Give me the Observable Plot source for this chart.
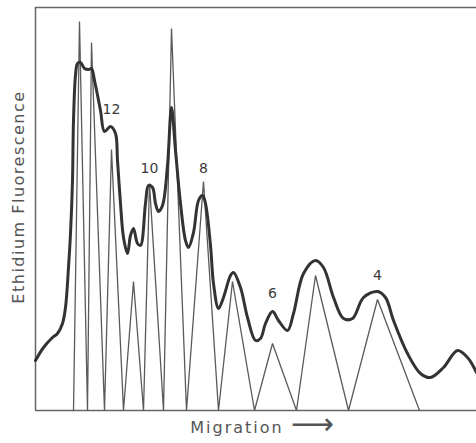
<!DOCTYPE html>
<html>
<head>
<meta charset="utf-8">
<script src="https://cdn.jsdelivr.net/npm/d3@7"></script>
<script src="https://cdn.jsdelivr.net/npm/@observablehq/plot@0.6"></script>
<style>
  html, body { margin: 0; padding: 0; background: #fff; }
  #chart svg { display: block; }
</style>
</head>
<body>
<div id="chart"></div>
<script>
// Densitometer trace (migration units, fluorescence units)
const traceX = [0, 8, 17, 22, 27, 30, 33, 35, 37, 38, 40, 42, 45, 49, 53, 56, 59, 65, 69, 75, 80, 82, 85, 88, 92, 95, 98, 102, 105, 110, 113, 117, 120, 123, 127, 132, 136, 140, 145, 150, 153, 158, 163, 167, 170, 175, 178, 183, 188, 195, 198, 205, 212, 220, 225, 230, 237, 243, 252, 258, 268, 280, 288, 298, 308, 317, 328, 342, 350, 358, 372, 385, 395, 408, 422, 432, 441];
const traceY = [50, 63, 73, 77, 87, 103, 143, 177, 230, 290, 335, 347, 348, 342, 341, 342, 330, 300, 279, 284, 277, 250, 207, 173, 157, 175, 182, 167, 165, 207, 225, 223, 207, 199, 205, 245, 303, 260, 207, 170, 163, 178, 210, 215, 207, 165, 127, 102, 113, 135, 138, 123, 93, 70, 72, 87, 99, 90, 80, 97, 137, 150, 143, 113, 92, 92, 113, 119, 113, 90, 57, 37, 33, 43, 60, 53, 38];

// Resolved component peaks (triangles): shared base points and apexes
const baseX = [38, 52, 69, 88, 108, 128, 151, 183, 219, 261, 313, 384];
const apexX = [44, 56, 76, 98, 114, 136, 168, 197, 237, 280, 342];
const apexY = [389, 368, 261, 129, 227, 382, 229, 129, 67, 135, 111];

// Band labels
const labelText = ["12", "10", "8", "6", "4"];
const labelX = [76, 114, 168, 237, 342];
const labelY = [301, 242, 242, 117, 135];

const yTitle = "Ethidium Fluorescence";
const xTitleWord = "Migration";
const xTitleArrow = "\u27F6";
const xTitle = xTitleWord + " " + xTitleArrow;

const trace = traceX.map((x, i) => ({x, y: traceY[i]}));
const zigzag = [];
apexX.forEach((ax, i) => {
  zigzag.push({x: baseX[i], y: 0});
  zigzag.push({x: ax, y: apexY[i]});
});
zigzag.push({x: baseX[baseX.length - 1], y: 0});
const labels = labelText.map((t, i) => ({t, x: labelX[i], y: labelY[i]}));

const chart = Plot.plot({
  width: 476,
  height: 443,
  marginLeft: 35,
  marginRight: 0,
  marginTop: 7,
  marginBottom: 33,
  x: {domain: [0, 441], axis: null},
  y: {domain: [0, 403], axis: null},
  style: {background: "#fff", fontFamily: "DejaVu Sans, sans-serif", overflow: "visible"},
  marks: [
    Plot.ruleX([0], {stroke: "#666", strokeWidth: 1.5}),
    Plot.ruleY([0, 403], {stroke: "#666", strokeWidth: 1.5}),
    Plot.line(zigzag, {x: "x", y: "y", stroke: "#5a5a5a", strokeWidth: 1.3, strokeLinejoin: "miter"}),
    Plot.line(trace, {x: "x", y: "y", curve: "catmull-rom", stroke: "#333", strokeWidth: 3}),
    Plot.text(labels, {x: "x", y: "y", text: "t", fontSize: 14, fill: "#3a3a3a"}),
    Plot.text([xTitle], {frameAnchor: "bottom", lineAnchor: "middle", textAnchor: "middle", dy: 17, dx: 6, fontSize: 16, fill: "#555"}),
    Plot.text([yTitle], {frameAnchor: "left", textAnchor: "middle", lineAnchor: "middle", rotate: -90, dx: -17, dy: -12, fontSize: 16, fill: "#555"})
  ]
});
document.getElementById("chart").appendChild(chart);
// letter spacing for titles, and a longer arrow after "Migration"
chart.querySelectorAll("text").forEach(t => {
  if (t.textContent === yTitle) t.setAttribute("letter-spacing", "1.5");
  if (t.textContent === xTitle) {
    t.textContent = "";
    t.setAttribute("letter-spacing", "2");
    const ns = "http://www.w3.org/2000/svg";
    const a = document.createElementNS(ns, "tspan");
    a.textContent = xTitleWord + " ";
    const b = document.createElementNS(ns, "tspan");
    b.textContent = xTitleArrow;
    b.setAttribute("font-size", "30");
    b.setAttribute("letter-spacing", "0");
    b.setAttribute("dy", "1");
    t.appendChild(a);
    t.appendChild(b);
  }
});
</script>
</body>
</html>
